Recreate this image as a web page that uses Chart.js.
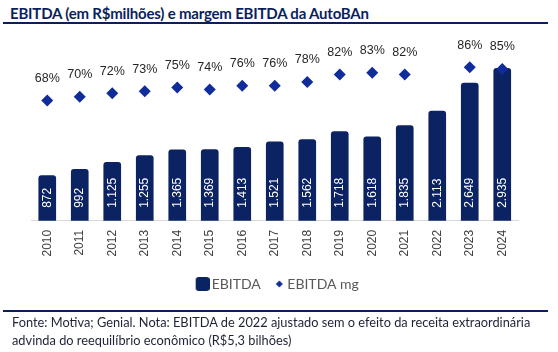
<!DOCTYPE html>
<html>
<head>
<meta charset="utf-8">
<script src="https://cdn.jsdelivr.net/npm/chart.js@4.4.1/dist/chart.umd.min.js"></script>
<style>
  html, body { margin:0; padding:0; background:#fff; }
  #wrap { position:relative; width:558px; height:352px; overflow:hidden; background:#fff; }
  #c { position:absolute; left:0; top:0; }
  .title { position:absolute; left:10px; top:4px; font-family:Lato, sans-serif; font-weight:700; font-size:15px; letter-spacing:-0.2px; color:#0B1F5C; white-space:nowrap; }
  .rule { position:absolute; left:3px; width:545px; height:2px; background:#0B1F5C; }
  .foot { position:absolute; left:12px; top:313px; font-family:Lato, sans-serif; font-size:12.8px; line-height:18px; color:#1E2235; white-space:nowrap; }
</style>
</head>
<body>
<div id="wrap">
  <div class="title">EBITDA (em R$milhões) e margem EBITDA da AutoBAn</div>
  <div class="rule" style="top:22px"></div>
  <canvas id="c" width="558" height="352"></canvas>
  <div class="rule" style="top:310px"></div>
  <div class="foot">Fonte: Motiva; Genial. Nota: EBITDA de 2022 ajustado sem o efeito da receita extraordinária<br>advinda do reequilíbrio econômico (R$5,3 bilhões)</div>
</div>
<script>
const years = ['2010','2011','2012','2013','2014','2015','2016','2017','2018','2019','2020','2021','2022','2023','2024'];
const ebitda = [872, 992, 1125, 1255, 1365, 1369, 1413, 1521, 1562, 1718, 1618, 1835, 2113, 2649, 2935];
const margin = [68, 70, 72, 73, 75, 74, 76, 76, 78, 82, 83, 82, null, 86, 85];
const seriesNames = ['EBITDA', 'EBITDA mg'];

const BAR = '#0B2263';
const DIA = '#102C9A';

function fmt(v){ return String(v).replace(/\B(?=(\d{3})+(?!\d))/g, '.'); }

function boxImg(){
  const c = document.createElement('canvas'); c.width = 18; c.height = 14;
  const x = c.getContext('2d'); x.fillStyle = BAR;
  const r = 3, x0 = 4, w = 14, h = 14;
  x.beginPath(); x.moveTo(x0+r,0); x.lineTo(x0+w-r,0); x.quadraticCurveTo(x0+w,0,x0+w,r); x.lineTo(x0+w,h-r);
  x.quadraticCurveTo(x0+w,h,x0+w-r,h); x.lineTo(x0+r,h); x.quadraticCurveTo(x0,h,x0,h-r); x.lineTo(x0,r); x.quadraticCurveTo(x0,0,x0+r,0); x.fill();
  return c;
}
function diaImg(){
  const c = document.createElement('canvas'); c.width = 14; c.height = 8;
  const x = c.getContext('2d'); x.fillStyle = DIA;
  const cx = 10;
  x.beginPath(); x.moveTo(cx,0.5); x.lineTo(cx+3.5,4); x.lineTo(cx,7.5); x.lineTo(cx-3.5,4); x.closePath(); x.fill();
  return c;
}

const legendShift = {
  id: 'legendShift',
  afterLayout(chart){
    if (chart.legend) { chart.legend.left += 3; chart.legend.right += 3; }
  }
};

const labelPlugin = {
  id: 'valueLabels',
  afterDatasetsDraw(chart){
    const ctx = chart.ctx;
    const bars = chart.getDatasetMeta(0).data;
    const pts = chart.getDatasetMeta(1).data;
    ctx.save();
    ctx.font = '12px "Liberation Sans", Arial, sans-serif';
    ctx.textBaseline = 'middle';
    bars.forEach((b, i) => {
      ctx.save();
      ctx.translate(b.x, b.base - 13);
      ctx.rotate(-Math.PI/2);
      ctx.fillStyle = '#FFFFFF';
      ctx.textAlign = 'left';
      ctx.fillText(fmt(ebitda[i]), 0, 0);
      ctx.restore();
    });
    ctx.font = '12.5px "Liberation Sans", Arial, sans-serif';
    ctx.fillStyle = '#262626';
    ctx.textAlign = 'center';
    pts.forEach((p, i) => {
      if (margin[i] == null) return;
      ctx.fillText(margin[i] + '%', p.x, p.y - 22);
    });
    ctx.restore();
  }
};

new Chart(document.getElementById('c'), {
  type: 'bar',
  data: {
    labels: years,
    datasets: [
      { type:'bar', label: seriesNames[0], data: ebitda, backgroundColor: BAR, barThickness: 17,
        borderRadius: {topLeft:3, topRight:3, bottomLeft:0, bottomRight:0}, borderSkipped:'bottom', yAxisID:'y', order: 2 },
      { type:'line', label: seriesNames[1], data: margin, showLine:false, pointStyle:'rectRot', pointRadius:6,
        pointHoverRadius:6, pointBackgroundColor: DIA, pointBorderColor: DIA, pointBorderWidth:0, borderWidth:0,
        yAxisID:'y2', order: 1 }
    ]
  },
  options: {
    responsive:false, animation:false,
    layout: { padding: { left:31, right:39.5, top:40, bottom:51 } },
    plugins: {
      tooltip: { enabled:false },
      legend: {
        position:'bottom',
        labels: {
          usePointStyle:true, boxWidth:8, padding:11.5,
          font: { family:'Lato', size:14 }, color:'#595959',
          generateLabels(){
            return [
              { text: seriesNames[0], pointStyle: boxImg(), fillStyle: BAR, strokeStyle: BAR, lineWidth:0, hidden:false, datasetIndex:0, fontColor:'#595959' },
              { text: seriesNames[1], pointStyle: diaImg(), fillStyle: DIA, strokeStyle: DIA, lineWidth:0, hidden:false, datasetIndex:1, fontColor:'#595959' }
            ];
          }
        }
      }
    },
    scales: {
      x: {
        grid: { display:false, drawTicks:false },
        border: { display:true, color:'#D9D9D9', width:1 },
        ticks: { minRotation:90, maxRotation:90, padding:9, color:'#404040', font:{ family:'"Liberation Sans"', size:12 } }
      },
      y: { display:false, min:0, max:3480 },
      y2: { display:false, min:3.3, max:100.6, position:'right' }
    }
  },
  plugins: [labelPlugin, legendShift]
});
</script>
</body>
</html>
